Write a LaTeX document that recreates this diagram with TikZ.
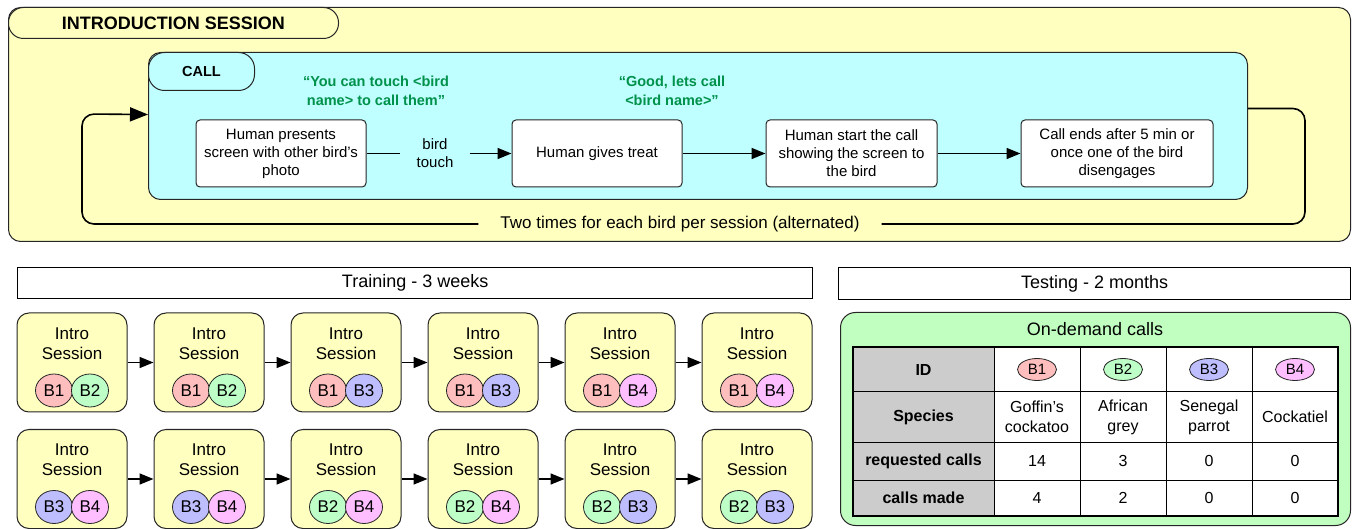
\documentclass[tikz,border=0pt]{standalone}
\usepackage{fontspec}
\setmainfont{Liberation Sans}
\usetikzlibrary{arrows.meta,shapes.geometric,positioning}
\definecolor{introyellow}{RGB}{255,255,192}
\definecolor{callcyan}{RGB}{192,255,255}
\definecolor{testgreen}{RGB}{192,255,192}
\definecolor{saygreen}{RGB}{0,145,75}
\definecolor{cellgrey}{RGB}{204,204,204}
\definecolor{bird1}{RGB}{255,190,190}
\definecolor{bird2}{RGB}{190,255,200}
\definecolor{bird3}{RGB}{190,190,255}
\definecolor{bird4}{RGB}{255,190,255}
\newcommand{\fsz}[2]{\fontsize{#1}{#2}\selectfont}
\tikzset{
  panel/.style={draw=black!85,line width=1pt,rounded corners=12pt,anchor=north west,inner sep=0pt},
  tabbox/.style={draw=black!85,line width=1pt,rounded corners=15pt,anchor=north west,font=\bfseries\fsz{18}{22}},
  stepbox/.style={draw=black!85,fill=white,line width=1pt,rounded corners=4pt,minimum height=67pt,align=center,font=\fsz{15}{18}},
  say/.style={text=saygreen,font=\bfseries\fsz{14.5}{19},align=center},
  flow/.style={line width=1.6pt,-{Triangle[length=14pt,width=11pt]}},
  sessbox/.style={draw=black!85,fill=introyellow,line width=1pt,rounded corners=12pt,minimum width=110pt,minimum height=99pt},
  birdtag/.style={ellipse,draw=black!85,line width=0.8pt,inner sep=0pt,minimum width=37pt,minimum height=33pt,font=\fsz{17}{20}},
  header/.style={draw,line width=1.3pt,anchor=north west,font=\fsz{18}{22}},
  cell/.style={font=\fsz{16}{20},align=center}
}
\begin{document}
\begin{tikzpicture}[x=1pt,y=-1pt]
  \useasboundingbox (0,0) rectangle (1353,529);
  % introduction session
  \node[panel,fill=introyellow,minimum width=1342pt,minimum height=234pt] (intro) at (8,7) {};
  \node[tabbox,fill=introyellow,minimum width=330pt,minimum height=31pt] (introtab) at (8,7) {INTRODUCTION SESSION};
  \node[panel,fill=callcyan,minimum width=1099pt,minimum height=147pt] (call) at (148,52) {};
  \node[tabbox,fill=callcyan,rounded corners=16pt,minimum width=106pt,minimum height=38pt,font=\bfseries\fsz{14.5}{17}] (calltab) at (148,52) {CALL};
  \node[say] (say1) at (376,91) {“You can touch <bird\\name> to call them”};
  \node[say] (say2) at (672,91) {“Good, lets call\\<bird name>”};
  \node[stepbox,minimum width=170pt] (present) at (281,153.5) {Human presents\\screen with other bird's\\photo};
  \node[cell,font=\fsz{15}{18},inner xsep=16pt] (touch) at (435,153.5) {bird\\touch};
  \node[stepbox,minimum width=170pt] (treat) at (597,153.5) {Human gives treat};
  \node[stepbox,minimum width=171pt] (start) at (851.5,153.5) {Human start the call\\showing the screen to\\the bird};
  \node[stepbox,minimum width=192pt] (ends) at (1117,153.5) {Call ends after 5 min or\\once one of the bird\\disengages};
  \draw[line width=1.6pt] (present) -- (touch);
  \draw[flow] (touch) -- (treat);
  \draw[flow] (treat) -- (start);
  \draw[flow] (start) -- (ends);
  % repeat loop
  \node[font=\fsz{17}{20},inner xsep=22pt] (rep) at (680,224) {Two times for each bird per session (alternated)};
  \draw[line width=1.6pt,rounded corners=12pt] ([yshift=17.5pt]call.east) -| (1305,224) -- (rep.east);
  \draw[flow,-{Triangle[length=18pt,width=14pt]},rounded corners=12pt] (rep.west) -| (82,114) -- ([yshift=11.5pt]call.west);
  % training
  \node[header,minimum width=795pt,minimum height=31pt] (training) at (17,267) {Training - 3 weeks};
  \foreach \a/\b [count=\i] in {1/2,1/2,1/3,1/3,1/4,1/4}{
    \pgfmathsetmacro\x{72+137*(\i-1)}
    \node[sessbox] (sesA\i) at (\x,362.5) {};
    \node[cell,font=\fsz{17}{20}] (sesA\i t) at (\x,343.5) {Intro\\Session};
    \node[birdtag,fill=bird\a] (sesA\i l) at (\x-18,390.5) {B\a};
    \node[birdtag,fill=bird\b] (sesA\i r) at (\x+18,390.5) {B\b};
  }
  \foreach \a/\b [count=\i] in {3/4,3/4,2/4,2/4,2/3,2/3}{
    \pgfmathsetmacro\x{72+137*(\i-1)}
    \node[sessbox] (sesB\i) at (\x,479) {};
    \node[cell,font=\fsz{17}{20}] (sesB\i t) at (\x,460) {Intro\\Session};
    \node[birdtag,fill=bird\a] (sesB\i l) at (\x-18,507) {B\a};
    \node[birdtag,fill=bird\b] (sesB\i r) at (\x+18,507) {B\b};
  }
  \foreach \i [evaluate=\i as \j using int(\i+1)] in {1,...,5}{
    \draw[flow] (sesA\i) -- (sesA\j);
    \draw[flow] (sesB\i) -- (sesB\j);
  }
  % testing
  \node[header,minimum width=512pt,minimum height=32pt] (testing) at (838,267) {Testing - 2 months};
  \node[panel,fill=testgreen,rounded corners=15pt,minimum width=510pt,minimum height=213pt] (ondemand) at (840,312) {};
  \node[font=\fsz{18}{22}] (ondemandtitle) at (1095,329) {On-demand calls};
  \fill[white] (853,347) rectangle (1338,516);
  \fill[cellgrey] (853,347) rectangle (994,516);
  \foreach \x in {994,1080,1166,1252} \draw[line width=1pt] (\x,347) -- (\x,516);
  \foreach \y in {392,442,480} \draw[line width=1pt] (853,\y) -- (1338,\y);
  \draw[line width=1.3pt] (853,347) rectangle (1338,516);
  \node[cell,font=\bfseries\fsz{16}{20}] (idhead) at (923.5,369.5) {ID};
  \node[cell,font=\bfseries\fsz{16}{20}] (sphead) at (923.5,417) {Species};
  \node[cell,font=\bfseries\fsz{16}{20}] (reqhead) at (923.5,461) {requested calls};
  \node[cell,font=\bfseries\fsz{16}{20}] (madehead) at (923.5,498) {calls made};
  \foreach \n/\x/\sp/\req/\made in {1/1037/{Goffin's\\cockatoo}/14/4,2/1123/{African\\grey}/3/2,3/1209/{Senegal\\parrot}/0/0,4/1295/{Cockatiel}/0/0}{
    \node[birdtag,fill=bird\n,minimum width=39pt,minimum height=22pt,font=\fsz{15}{18}] (id\n) at (\x,369.5) {B\n};
    \node[cell] (sp\n) at (\x,417) {\sp};
    \node[cell] (req\n) at (\x,461) {\req};
    \node[cell] (made\n) at (\x,498) {\made};
  }
\end{tikzpicture}
\end{document}
